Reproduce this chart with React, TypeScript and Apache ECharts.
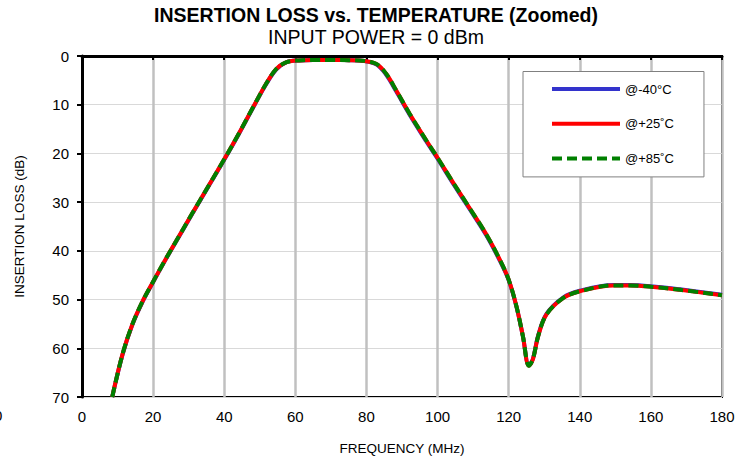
import React, { useEffect, useRef } from "react";
import * as echarts from "echarts";

const freq = [8.5, 11.4, 14.2, 17, 19.8, 23.6, 26.4, 31.1, 35.8, 40, 44.2, 48.5, 51.7, 54.6, 57.4, 61, 65, 70, 75, 78, 82.7, 85.5, 88.4, 92.1, 96.8, 100.1, 104.3, 109, 113.7, 117.5, 120, 122.2, 124, 125.7, 126.8, 128.3, 130.6, 135.3, 140, 149.4, 154.1, 160.7, 168.2, 180];
const loss25 = [70, 61.2, 55.0, 50.4, 46.6, 41.6, 38.1, 32.2, 26.4, 21.2, 15.8, 10.0, 5.8, 2.7, 1.3, 0.9, 0.8, 0.8, 0.85, 0.9, 1.6, 3.6, 7.1, 11.8, 17.3, 21.0, 25.9, 31.2, 36.6, 41.8, 45.9, 51.4, 57.5, 63.6, 62.3, 57.5, 53.1, 49.7, 48.3, 47.1, 47.1, 47.4, 48.0, 49.1];
const loss40 = [70, 61.3, 55.1, 50.5, 46.7, 41.7, 38.2, 32.3, 26.5, 21.3, 15.9, 10.1, 5.9, 2.8, 1.3, 0.9, 0.8, 0.8, 0.85, 0.9, 1.7, 3.8, 7.3, 12.0, 17.5, 21.2, 26.1, 31.4, 36.8, 42.0, 46.0, 51.5, 57.5, 63.5, 62.2, 57.4, 53.0, 49.6, 48.2, 47.0, 47.0, 47.3, 47.9, 49.0];
const loss85 = [70, 61.2, 55.0, 50.4, 46.6, 41.6, 38.1, 32.2, 26.4, 21.2, 15.8, 10.0, 5.8, 2.7, 1.3, 0.9, 0.8, 0.8, 0.85, 0.9, 1.6, 3.6, 7.1, 11.8, 17.3, 21.0, 25.9, 31.2, 36.6, 41.8, 45.9, 51.4, 57.5, 63.6, 62.3, 57.5, 53.1, 49.7, 48.3, 47.1, 47.1, 47.4, 48.0, 49.1];

const seriesNames = ["@-40°C", "@+25˚C", "@+85˚C"];
const FONT = "Liberation Sans, Arial, sans-serif";

function pairs(ys: number[]) {
  return freq.map((f, i) => [f, ys[i]]);
}

export default function App() {
  const ref = useRef<HTMLDivElement>(null);
  useEffect(() => {
    if (!ref.current) return;
    const chart = echarts.init(ref.current, undefined, { renderer: "svg" });
    chart.setOption({
      animation: false,
      backgroundColor: "#ffffff",
      textStyle: { fontFamily: FONT },
      title: {
        text: "INSERTION LOSS vs. TEMPERATURE (Zoomed)",
        subtext: "INPUT POWER = 0 dBm",
        left: "center",
        top: 0,
        itemGap: 2,
        textStyle: { fontFamily: FONT, fontSize: 19.5, fontWeight: "bold", color: "#000" },
        subtextStyle: { fontFamily: FONT, fontSize: 19.5, color: "#000" },
      },
      legend: {
        left: 523,
        top: 71.5,
        orient: "vertical",
        align: "left",
        padding: [11, 30, 12, 27],
        itemWidth: 68,
        itemHeight: 14,
        itemGap: 21.7,
        borderColor: "#808080",
        borderWidth: 1,
        backgroundColor: "#fff",
        data: seriesNames,
        itemStyle: { opacity: 0 },
        lineStyle: { width: 4 },
        textStyle: { fontFamily: FONT, fontSize: 13, color: "#000" },
      },
      grid: {
        left: 82,
        right: 30,
        top: 56,
        bottom: 65,
        show: true,
        borderColor: "#000",
        borderWidth: 2,
      },
      xAxis: {
        type: "value",
        min: 0,
        max: 180,
        interval: 20,
        name: "FREQUENCY (MHz)",
        nameLocation: "middle",
        nameGap: 44,
        nameTextStyle: { fontFamily: FONT, fontSize: 13.5, color: "#000" },
        axisLine: { lineStyle: { color: "#000", width: 3 } },
        axisTick: { show: true, length: 4, lineStyle: { color: "#000", width: 2 } },
        axisLabel: { fontFamily: FONT, fontSize: 15, color: "#000", margin: 12 },
        splitLine: { show: true, lineStyle: { color: "#c0c0c0", width: 2.5 } },
      },
      yAxis: {
        type: "value",
        inverse: true,
        min: 0,
        max: 70,
        interval: 10,
        name: "INSERTION LOSS (dB)",
        nameLocation: "middle",
        nameGap: 56,
        nameTextStyle: { fontFamily: FONT, fontSize: 13.5, color: "#000" },
        axisLine: { show: true, lineStyle: { color: "#000", width: 3 } },
        axisTick: { show: true, length: 5, lineStyle: { color: "#000", width: 2 } },
        axisLabel: { fontFamily: FONT, fontSize: 15, color: "#000", margin: 13 },
        splitLine: { show: true, lineStyle: { color: "#d9d9d9", width: 1 } },
      },
      graphic: [
        {
          type: "text",
          left: -6,
          top: 408,
          style: { text: "0", fontFamily: FONT, fontSize: 15, fill: "#000" },
        },
      ],
      series: [
        {
          name: seriesNames[0],
          type: "line",
          data: pairs(loss40),
          smooth: 0.35,
          symbol: "none",
          color: "#3333cc",
          lineStyle: { color: "#3333cc", width: 4 },
          z: 2,
        },
        {
          name: seriesNames[1],
          type: "line",
          data: pairs(loss25),
          smooth: 0.35,
          symbol: "none",
          color: "#ff0000",
          lineStyle: { color: "#ff0000", width: 4 },
          z: 3,
        },
        {
          name: seriesNames[2],
          type: "line",
          data: pairs(loss85),
          smooth: 0.35,
          symbol: "none",
          color: "#008000",
          lineStyle: { color: "#008000", width: 4, type: [10, 5] },
          z: 4,
        },
      ],
    });
    return () => chart.dispose();
  }, []);
  return (
    <div
      ref={ref}
      style={{ position: "absolute", left: 0, top: 0, width: 752, height: 462 }}
    />
  );
}
